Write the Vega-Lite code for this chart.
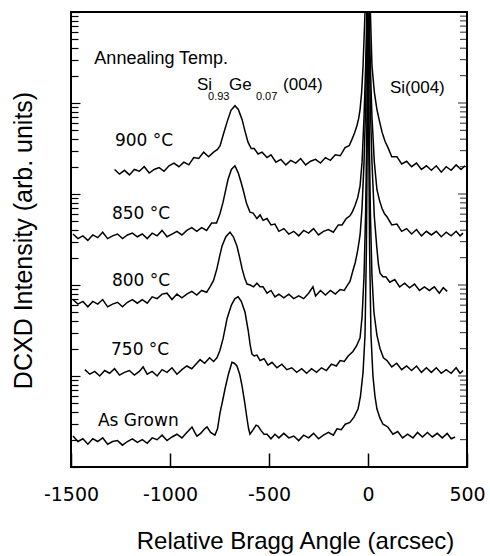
{
"$schema": "https://vega.github.io/schema/vega-lite/v6.json",
"width": 396, "height": 455,
"autosize": {"type": "none"},
"padding": {"left": 71, "top": 12, "right": 23, "bottom": 89},
"background": "white",
"config": {
  "view": {"stroke": "black", "strokeWidth": 2},
  "axis": {"domain": false, "grid": false, "tickColor": "black", "labelColor": "black", "titleColor": "black", "titleFontWeight": "normal"}
},
"datasets": {
"curves": [
{"s":"900","x":-1280,"y":3.27},{"s":"900","x":-1255,"y":3.22},{"s":"900","x":-1230,"y":3.26},{"s":"900","x":-1205,"y":3.21},{"s":"900","x":-1180,"y":3.27},{"s":"900","x":-1155,"y":3.25},{"s":"900","x":-1130,"y":3.30},{"s":"900","x":-1105,"y":3.23},{"s":"900","x":-1080,"y":3.27},{"s":"900","x":-1055,"y":3.29},{"s":"900","x":-1030,"y":3.25},{"s":"900","x":-1005,"y":3.31},{"s":"900","x":-980,"y":3.34},{"s":"900","x":-955,"y":3.30},{"s":"900","x":-930,"y":3.35},{"s":"900","x":-905,"y":3.32},{"s":"900","x":-880,"y":3.40},{"s":"900","x":-855,"y":3.39},{"s":"900","x":-830,"y":3.46},{"s":"900","x":-805,"y":3.41},{"s":"900","x":-780,"y":3.46},{"s":"900","x":-760,"y":3.49},{"s":"900","x":-747,"y":3.53},{"s":"900","x":-730,"y":3.66},{"s":"900","x":-712,"y":3.79},{"s":"900","x":-692,"y":3.92},{"s":"900","x":-672,"y":3.97},{"s":"900","x":-655,"y":3.93},{"s":"900","x":-636,"y":3.82},{"s":"900","x":-620,"y":3.68},{"s":"900","x":-606,"y":3.57},{"s":"900","x":-590,"y":3.50},{"s":"900","x":-575,"y":3.50},{"s":"900","x":-555,"y":3.44},{"s":"900","x":-535,"y":3.46},{"s":"900","x":-510,"y":3.40},{"s":"900","x":-490,"y":3.43},{"s":"900","x":-465,"y":3.35},{"s":"900","x":-440,"y":3.38},{"s":"900","x":-415,"y":3.32},{"s":"900","x":-390,"y":3.37},{"s":"900","x":-365,"y":3.34},{"s":"900","x":-340,"y":3.39},{"s":"900","x":-315,"y":3.32},{"s":"900","x":-290,"y":3.36},{"s":"900","x":-265,"y":3.38},{"s":"900","x":-240,"y":3.34},{"s":"900","x":-215,"y":3.40},{"s":"900","x":-190,"y":3.37},{"s":"900","x":-165,"y":3.43},{"s":"900","x":-140,"y":3.42},{"s":"900","x":-116,"y":3.51},{"s":"900","x":-95,"y":3.53},{"s":"900","x":-81,"y":3.60},{"s":"900","x":-68,"y":3.67},{"s":"900","x":-56,"y":3.75},{"s":"900","x":-47,"y":3.83},{"s":"900","x":-40,"y":3.93},{"s":"900","x":-32,"y":4.12},{"s":"900","x":-25,"y":4.41},{"s":"900","x":-15,"y":5.0},{"s":"900","x":-5,"y":5.6},{"s":"900","x":0,"y":5.7},{"s":"900","x":5,"y":5.6},{"s":"900","x":12,"y":5.0},{"s":"900","x":20,"y":4.41},{"s":"900","x":32,"y":4.12},{"s":"900","x":45,"y":3.93},{"s":"900","x":58,"y":3.80},{"s":"900","x":71,"y":3.68},{"s":"900","x":86,"y":3.58},{"s":"900","x":101,"y":3.51},{"s":"900","x":120,"y":3.41},{"s":"900","x":146,"y":3.41},{"s":"900","x":170,"y":3.33},{"s":"900","x":195,"y":3.36},{"s":"900","x":220,"y":3.30},{"s":"900","x":245,"y":3.34},{"s":"900","x":270,"y":3.27},{"s":"900","x":295,"y":3.31},{"s":"900","x":320,"y":3.26},{"s":"900","x":345,"y":3.31},{"s":"900","x":370,"y":3.24},{"s":"900","x":395,"y":3.30},{"s":"900","x":420,"y":3.26},{"s":"900","x":445,"y":3.32},{"s":"900","x":470,"y":3.27},{"s":"900","x":490,"y":3.31},
{"s":"850","x":-1490,"y":2.56},{"s":"850","x":-1465,"y":2.51},{"s":"850","x":-1440,"y":2.54},{"s":"850","x":-1415,"y":2.49},{"s":"850","x":-1390,"y":2.55},{"s":"850","x":-1365,"y":2.52},{"s":"850","x":-1340,"y":2.58},{"s":"850","x":-1315,"y":2.51},{"s":"850","x":-1290,"y":2.54},{"s":"850","x":-1265,"y":2.56},{"s":"850","x":-1240,"y":2.51},{"s":"850","x":-1215,"y":2.55},{"s":"850","x":-1190,"y":2.57},{"s":"850","x":-1165,"y":2.53},{"s":"850","x":-1140,"y":2.56},{"s":"850","x":-1115,"y":2.51},{"s":"850","x":-1090,"y":2.57},{"s":"850","x":-1065,"y":2.54},{"s":"850","x":-1040,"y":2.60},{"s":"850","x":-1015,"y":2.53},{"s":"850","x":-990,"y":2.56},{"s":"850","x":-965,"y":2.59},{"s":"850","x":-940,"y":2.55},{"s":"850","x":-915,"y":2.60},{"s":"850","x":-890,"y":2.63},{"s":"850","x":-865,"y":2.59},{"s":"850","x":-840,"y":2.63},{"s":"850","x":-815,"y":2.60},{"s":"850","x":-790,"y":2.68},{"s":"850","x":-765,"y":2.68},{"s":"850","x":-748,"y":2.78},{"s":"850","x":-732,"y":2.91},{"s":"850","x":-718,"y":3.05},{"s":"850","x":-707,"y":3.16},{"s":"850","x":-690,"y":3.27},{"s":"850","x":-672,"y":3.31},{"s":"850","x":-655,"y":3.23},{"s":"850","x":-640,"y":3.12},{"s":"850","x":-631,"y":3.05},{"s":"850","x":-614,"y":2.90},{"s":"850","x":-596,"y":2.80},{"s":"850","x":-580,"y":2.79},{"s":"850","x":-561,"y":2.73},{"s":"850","x":-545,"y":2.77},{"s":"850","x":-530,"y":2.71},{"s":"850","x":-510,"y":2.73},{"s":"850","x":-490,"y":2.66},{"s":"850","x":-470,"y":2.67},{"s":"850","x":-450,"y":2.59},{"s":"850","x":-425,"y":2.62},{"s":"850","x":-400,"y":2.56},{"s":"850","x":-375,"y":2.59},{"s":"850","x":-350,"y":2.54},{"s":"850","x":-325,"y":2.60},{"s":"850","x":-300,"y":2.57},{"s":"850","x":-275,"y":2.62},{"s":"850","x":-250,"y":2.55},{"s":"850","x":-225,"y":2.59},{"s":"850","x":-200,"y":2.61},{"s":"850","x":-175,"y":2.58},{"s":"850","x":-150,"y":2.66},{"s":"850","x":-131,"y":2.66},{"s":"850","x":-110,"y":2.73},{"s":"850","x":-91,"y":2.76},{"s":"850","x":-78,"y":2.81},{"s":"850","x":-66,"y":2.87},{"s":"850","x":-52,"y":2.96},{"s":"850","x":-40,"y":3.09},{"s":"850","x":-30,"y":3.35},{"s":"850","x":-20,"y":3.85},{"s":"850","x":-12,"y":4.40},{"s":"850","x":-5,"y":5.1},{"s":"850","x":0,"y":5.4},{"s":"850","x":5,"y":5.1},{"s":"850","x":12,"y":4.40},{"s":"850","x":20,"y":3.85},{"s":"850","x":32,"y":3.35},{"s":"850","x":45,"y":3.05},{"s":"850","x":58,"y":2.93},{"s":"850","x":71,"y":2.84},{"s":"850","x":84,"y":2.78},{"s":"850","x":96,"y":2.75},{"s":"850","x":120,"y":2.66},{"s":"850","x":146,"y":2.67},{"s":"850","x":170,"y":2.59},{"s":"850","x":195,"y":2.62},{"s":"850","x":220,"y":2.56},{"s":"850","x":245,"y":2.61},{"s":"850","x":270,"y":2.54},{"s":"850","x":295,"y":2.59},{"s":"850","x":320,"y":2.55},{"s":"850","x":345,"y":2.59},{"s":"850","x":370,"y":2.53},{"s":"850","x":395,"y":2.58},{"s":"850","x":420,"y":2.54},{"s":"850","x":445,"y":2.59},{"s":"850","x":465,"y":2.54},{"s":"850","x":480,"y":2.57},
{"s":"800","x":-1490,"y":1.84},{"s":"800","x":-1465,"y":1.79},{"s":"800","x":-1440,"y":1.82},{"s":"800","x":-1415,"y":1.76},{"s":"800","x":-1390,"y":1.82},{"s":"800","x":-1365,"y":1.79},{"s":"800","x":-1340,"y":1.84},{"s":"800","x":-1315,"y":1.76},{"s":"800","x":-1290,"y":1.79},{"s":"800","x":-1265,"y":1.81},{"s":"800","x":-1240,"y":1.76},{"s":"800","x":-1215,"y":1.81},{"s":"800","x":-1190,"y":1.84},{"s":"800","x":-1165,"y":1.80},{"s":"800","x":-1140,"y":1.84},{"s":"800","x":-1115,"y":1.80},{"s":"800","x":-1090,"y":1.87},{"s":"800","x":-1065,"y":1.85},{"s":"800","x":-1040,"y":1.90},{"s":"800","x":-1015,"y":1.91},{"s":"800","x":-990,"y":1.84},{"s":"800","x":-965,"y":1.90},{"s":"800","x":-940,"y":1.86},{"s":"800","x":-915,"y":1.90},{"s":"800","x":-890,"y":1.93},{"s":"800","x":-865,"y":1.89},{"s":"800","x":-840,"y":1.94},{"s":"800","x":-815,"y":1.92},{"s":"800","x":-798,"y":1.98},{"s":"800","x":-780,"y":2.05},{"s":"800","x":-763,"y":2.18},{"s":"800","x":-750,"y":2.31},{"s":"800","x":-737,"y":2.43},{"s":"800","x":-718,"y":2.53},{"s":"800","x":-697,"y":2.58},{"s":"800","x":-680,"y":2.53},{"s":"800","x":-662,"y":2.43},{"s":"800","x":-648,"y":2.30},{"s":"800","x":-636,"y":2.18},{"s":"800","x":-622,"y":2.07},{"s":"800","x":-611,"y":2.01},{"s":"800","x":-595,"y":2.00},{"s":"800","x":-578,"y":1.98},{"s":"800","x":-561,"y":2.02},{"s":"800","x":-545,"y":1.98},{"s":"800","x":-530,"y":1.98},{"s":"800","x":-510,"y":1.91},{"s":"800","x":-490,"y":1.94},{"s":"800","x":-470,"y":1.87},{"s":"800","x":-450,"y":1.90},{"s":"800","x":-425,"y":1.86},{"s":"800","x":-400,"y":1.90},{"s":"800","x":-375,"y":1.85},{"s":"800","x":-350,"y":1.88},{"s":"800","x":-325,"y":1.85},{"s":"800","x":-300,"y":1.91},{"s":"800","x":-278,"y":1.98},{"s":"800","x":-265,"y":1.88},{"s":"800","x":-240,"y":1.94},{"s":"800","x":-215,"y":1.89},{"s":"800","x":-190,"y":1.94},{"s":"800","x":-165,"y":1.90},{"s":"800","x":-141,"y":1.95},{"s":"800","x":-120,"y":1.94},{"s":"800","x":-106,"y":1.99},{"s":"800","x":-91,"y":2.04},{"s":"800","x":-76,"y":2.16},{"s":"800","x":-64,"y":2.25},{"s":"800","x":-52,"y":2.38},{"s":"800","x":-40,"y":2.55},{"s":"800","x":-30,"y":2.85},{"s":"800","x":-20,"y":3.35},{"s":"800","x":-12,"y":3.95},{"s":"800","x":-5,"y":4.8},{"s":"800","x":0,"y":5.3},{"s":"800","x":5,"y":4.8},{"s":"800","x":12,"y":3.95},{"s":"800","x":20,"y":3.35},{"s":"800","x":32,"y":2.75},{"s":"800","x":45,"y":2.40},{"s":"800","x":53,"y":2.22},{"s":"800","x":61,"y":2.13},{"s":"800","x":75,"y":2.09},{"s":"800","x":90,"y":2.09},{"s":"800","x":110,"y":2.03},{"s":"800","x":135,"y":2.06},{"s":"800","x":160,"y":1.98},{"s":"800","x":185,"y":2.02},{"s":"800","x":210,"y":1.97},{"s":"800","x":235,"y":2.01},{"s":"800","x":260,"y":1.94},{"s":"800","x":285,"y":1.98},{"s":"800","x":310,"y":1.94},{"s":"800","x":335,"y":1.98},{"s":"800","x":360,"y":1.91},{"s":"800","x":380,"y":1.97},{"s":"800","x":400,"y":1.93},
{"s":"750","x":-1430,"y":1.07},{"s":"750","x":-1405,"y":1.02},{"s":"750","x":-1380,"y":1.05},{"s":"750","x":-1355,"y":1.00},{"s":"750","x":-1330,"y":1.06},{"s":"750","x":-1305,"y":1.03},{"s":"750","x":-1280,"y":1.08},{"s":"750","x":-1255,"y":1.01},{"s":"750","x":-1230,"y":1.04},{"s":"750","x":-1205,"y":1.06},{"s":"750","x":-1180,"y":1.01},{"s":"750","x":-1155,"y":1.05},{"s":"750","x":-1136,"y":1.10},{"s":"750","x":-1115,"y":1.02},{"s":"750","x":-1090,"y":1.05},{"s":"750","x":-1065,"y":1.00},{"s":"750","x":-1040,"y":1.07},{"s":"750","x":-1015,"y":1.04},{"s":"750","x":-990,"y":1.09},{"s":"750","x":-965,"y":1.02},{"s":"750","x":-940,"y":1.07},{"s":"750","x":-915,"y":1.11},{"s":"750","x":-890,"y":1.08},{"s":"750","x":-865,"y":1.14},{"s":"750","x":-848,"y":1.18},{"s":"750","x":-825,"y":1.14},{"s":"750","x":-800,"y":1.20},{"s":"750","x":-780,"y":1.16},{"s":"750","x":-763,"y":1.20},{"s":"750","x":-748,"y":1.28},{"s":"750","x":-732,"y":1.41},{"s":"750","x":-720,"y":1.54},{"s":"750","x":-712,"y":1.63},{"s":"750","x":-690,"y":1.78},{"s":"750","x":-672,"y":1.85},{"s":"750","x":-656,"y":1.87},{"s":"750","x":-640,"y":1.82},{"s":"750","x":-621,"y":1.70},{"s":"750","x":-605,"y":1.50},{"s":"750","x":-595,"y":1.34},{"s":"750","x":-586,"y":1.24},{"s":"750","x":-575,"y":1.22},{"s":"750","x":-561,"y":1.23},{"s":"750","x":-545,"y":1.17},{"s":"750","x":-525,"y":1.19},{"s":"750","x":-505,"y":1.12},{"s":"750","x":-485,"y":1.15},{"s":"750","x":-460,"y":1.09},{"s":"750","x":-435,"y":1.13},{"s":"750","x":-410,"y":1.07},{"s":"750","x":-385,"y":1.09},{"s":"750","x":-360,"y":1.04},{"s":"750","x":-335,"y":1.08},{"s":"750","x":-310,"y":1.03},{"s":"750","x":-285,"y":1.08},{"s":"750","x":-260,"y":1.04},{"s":"750","x":-235,"y":1.09},{"s":"750","x":-210,"y":1.06},{"s":"750","x":-185,"y":1.13},{"s":"750","x":-160,"y":1.11},{"s":"750","x":-141,"y":1.17},{"s":"750","x":-120,"y":1.16},{"s":"750","x":-100,"y":1.22},{"s":"750","x":-76,"y":1.27},{"s":"750","x":-58,"y":1.33},{"s":"750","x":-40,"y":1.42},{"s":"750","x":-30,"y":1.65},{"s":"750","x":-20,"y":2.1},{"s":"750","x":-12,"y":2.8},{"s":"750","x":-6,"y":3.7},{"s":"750","x":-2,"y":4.6},{"s":"750","x":0,"y":5.2},{"s":"750","x":2,"y":4.6},{"s":"750","x":6,"y":3.7},{"s":"750","x":12,"y":2.8},{"s":"750","x":20,"y":2.1},{"s":"750","x":30,"y":1.70},{"s":"750","x":45,"y":1.45},{"s":"750","x":61,"y":1.30},{"s":"750","x":78,"y":1.20},{"s":"750","x":96,"y":1.17},{"s":"750","x":120,"y":1.10},{"s":"750","x":145,"y":1.14},{"s":"750","x":170,"y":1.07},{"s":"750","x":195,"y":1.11},{"s":"750","x":220,"y":1.06},{"s":"750","x":245,"y":1.11},{"s":"750","x":270,"y":1.04},{"s":"750","x":295,"y":1.09},{"s":"750","x":320,"y":1.04},{"s":"750","x":345,"y":1.09},{"s":"750","x":370,"y":1.03},{"s":"750","x":395,"y":1.07},{"s":"750","x":420,"y":1.03},{"s":"750","x":445,"y":1.09},{"s":"750","x":465,"y":1.03},{"s":"750","x":480,"y":1.06},
{"s":"AG","x":-1490,"y":0.34},{"s":"AG","x":-1465,"y":0.28},{"s":"AG","x":-1440,"y":0.31},{"s":"AG","x":-1415,"y":0.25},{"s":"AG","x":-1390,"y":0.31},{"s":"AG","x":-1365,"y":0.28},{"s":"AG","x":-1340,"y":0.32},{"s":"AG","x":-1315,"y":0.25},{"s":"AG","x":-1290,"y":0.28},{"s":"AG","x":-1265,"y":0.29},{"s":"AG","x":-1240,"y":0.24},{"s":"AG","x":-1215,"y":0.28},{"s":"AG","x":-1190,"y":0.31},{"s":"AG","x":-1165,"y":0.27},{"s":"AG","x":-1140,"y":0.30},{"s":"AG","x":-1115,"y":0.26},{"s":"AG","x":-1090,"y":0.32},{"s":"AG","x":-1065,"y":0.30},{"s":"AG","x":-1040,"y":0.35},{"s":"AG","x":-1015,"y":0.29},{"s":"AG","x":-990,"y":0.33},{"s":"AG","x":-965,"y":0.36},{"s":"AG","x":-940,"y":0.32},{"s":"AG","x":-915,"y":0.38},{"s":"AG","x":-889,"y":0.44},{"s":"AG","x":-875,"y":0.38},{"s":"AG","x":-864,"y":0.34},{"s":"AG","x":-845,"y":0.37},{"s":"AG","x":-825,"y":0.42},{"s":"AG","x":-813,"y":0.44},{"s":"AG","x":-795,"y":0.38},{"s":"AG","x":-773,"y":0.35},{"s":"AG","x":-760,"y":0.42},{"s":"AG","x":-747,"y":0.60},{"s":"AG","x":-735,"y":0.72},{"s":"AG","x":-722,"y":0.86},{"s":"AG","x":-705,"y":1.02},{"s":"AG","x":-687,"y":1.15},{"s":"AG","x":-675,"y":1.14},{"s":"AG","x":-662,"y":1.11},{"s":"AG","x":-648,"y":1.02},{"s":"AG","x":-636,"y":0.89},{"s":"AG","x":-622,"y":0.70},{"s":"AG","x":-611,"y":0.53},{"s":"AG","x":-603,"y":0.42},{"s":"AG","x":-596,"y":0.36},{"s":"AG","x":-580,"y":0.41},{"s":"AG","x":-565,"y":0.46},{"s":"AG","x":-555,"y":0.45},{"s":"AG","x":-540,"y":0.40},{"s":"AG","x":-525,"y":0.36},{"s":"AG","x":-510,"y":0.36},{"s":"AG","x":-490,"y":0.31},{"s":"AG","x":-470,"y":0.36},{"s":"AG","x":-450,"y":0.32},{"s":"AG","x":-425,"y":0.37},{"s":"AG","x":-400,"y":0.32},{"s":"AG","x":-375,"y":0.34},{"s":"AG","x":-350,"y":0.29},{"s":"AG","x":-325,"y":0.35},{"s":"AG","x":-300,"y":0.32},{"s":"AG","x":-275,"y":0.37},{"s":"AG","x":-250,"y":0.31},{"s":"AG","x":-225,"y":0.35},{"s":"AG","x":-200,"y":0.38},{"s":"AG","x":-175,"y":0.35},{"s":"AG","x":-157,"y":0.42},{"s":"AG","x":-135,"y":0.41},{"s":"AG","x":-115,"y":0.47},{"s":"AG","x":-91,"y":0.49},{"s":"AG","x":-70,"y":0.55},{"s":"AG","x":-50,"y":0.64},{"s":"AG","x":-38,"y":0.78},{"s":"AG","x":-25,"y":1.04},{"s":"AG","x":-15,"y":1.45},{"s":"AG","x":-8,"y":2.4},{"s":"AG","x":-3,"y":3.8},{"s":"AG","x":0,"y":5.2},{"s":"AG","x":3,"y":3.8},{"s":"AG","x":8,"y":2.4},{"s":"AG","x":15,"y":1.45},{"s":"AG","x":25,"y":1.0},{"s":"AG","x":35,"y":0.78},{"s":"AG","x":45,"y":0.64},{"s":"AG","x":60,"y":0.54},{"s":"AG","x":76,"y":0.47},{"s":"AG","x":100,"y":0.44},{"s":"AG","x":126,"y":0.36},{"s":"AG","x":150,"y":0.39},{"s":"AG","x":175,"y":0.32},{"s":"AG","x":200,"y":0.36},{"s":"AG","x":227,"y":0.32},{"s":"AG","x":250,"y":0.38},{"s":"AG","x":275,"y":0.33},{"s":"AG","x":300,"y":0.38},{"s":"AG","x":325,"y":0.33},{"s":"AG","x":350,"y":0.37},{"s":"AG","x":375,"y":0.32},{"s":"AG","x":400,"y":0.37},{"s":"AG","x":420,"y":0.31},{"s":"AG","x":440,"y":0.33}
],
"rticks": [{"x":500,"v":0.30103},{"x":500,"v":0.47712},{"x":500,"v":0.60206},{"x":500,"v":0.69897},{"x":500,"v":0.77815},{"x":500,"v":0.8451},{"x":500,"v":0.90309},{"x":500,"v":0.95424},{"x":500,"v":1},{"x":500,"v":1.30103},{"x":500,"v":1.47712},{"x":500,"v":1.60206},{"x":500,"v":1.69897},{"x":500,"v":1.77815},{"x":500,"v":1.8451},{"x":500,"v":1.90309},{"x":500,"v":1.95424},{"x":500,"v":2},{"x":500,"v":2.30103},{"x":500,"v":2.47712},{"x":500,"v":2.60206},{"x":500,"v":2.69897},{"x":500,"v":2.77815},{"x":500,"v":2.8451},{"x":500,"v":2.90309},{"x":500,"v":2.95424},{"x":500,"v":3},{"x":500,"v":3.30103},{"x":500,"v":3.47712},{"x":500,"v":3.60206},{"x":500,"v":3.69897},{"x":500,"v":3.77815},{"x":500,"v":3.8451},{"x":500,"v":3.90309},{"x":500,"v":3.95424},{"x":500,"v":4},{"x":500,"v":4.30103},{"x":500,"v":4.47712},{"x":500,"v":4.60206},{"x":500,"v":4.69897},{"x":500,"v":4.77815},{"x":500,"v":4.8451},{"x":500,"v":4.90309},{"x":500,"v":4.95424}],
"head": [{"t":"Annealing Temp.","x":-1382,"y":4.43}],
"main": [{"t":"Si","x":-864,"y":4.14},{"t":"Ge","x":-702,"y":4.14},{"t":"(004)","x":-429,"y":4.14},{"t":"Si(004)","x":111,"y":4.11}],
"subs": [{"t":"0.93","x":-808,"y":4.03},{"t":"0.07","x":-566,"y":4.03}],
"temps": [{"t":"900 °C","x":-1278,"y":3.53},{"t":"850 °C","x":-1293,"y":2.73},{"t":"800 °C","x":-1293,"y":1.99},{"t":"750 °C","x":-1298,"y":1.23},{"t":"As Grown","x":-1364,"y":0.45}]
},
"layer": [
{
  "data": {"name": "curves"},
  "mark": {"type": "line", "color": "black", "strokeWidth": 1.5, "clip": true},
  "encoding": {
    "x": {"field": "x", "type": "quantitative", "scale": {"domain": [-1500, 500], "nice": false},
      "axis": {"orient": "bottom", "title": "Relative Bragg Angle (arcsec)", "values": [-1500, -1000, -500, 0, 500],
        "labelExpr": "'' + datum.value", "labelOverlap": false, "labelFlush": false,
        "tickSize": -14, "tickWidth": 1.5, "labelPadding": 32, "labelFont": "DejaVu Sans", "labelFontSize": 19,
        "titleFont": "Liberation Sans", "titleFontSize": 24, "titleX": 224, "titleY": 81,
        "titleBaseline": "alphabetic", "titleAlign": "center"}},
    "y": {"field": "y", "type": "quantitative", "scale": {"domain": [0, 5], "nice": false, "zero": false},
      "axis": {"orient": "left", "title": "DCXD Intensity (arb. units)", "labels": false,
        "values": [0,0.30103,0.47712,0.60206,0.69897,0.77815,0.8451,0.90309,0.95424,1,1.30103,1.47712,1.60206,1.69897,1.77815,1.8451,1.90309,1.95424,2,2.30103,2.47712,2.60206,2.69897,2.77815,2.8451,2.90309,2.95424,3,3.30103,3.47712,3.60206,3.69897,3.77815,3.8451,3.90309,3.95424,4,4.30103,4.47712,4.60206,4.69897,4.77815,4.8451,4.90309,4.95424,5],
        "tickSize": {"condition": {"test": "datum.value % 1 === 0", "value": -9}, "value": -7}, "tickWidth": 1.2,
        "titleFont": "Liberation Sans", "titleFontSize": 25, "titleX": -40, "titleY": 228, "titleAngle": 270,
        "titleBaseline": "alphabetic", "titleAlign": "center"}},
    "detail": {"field": "s"}
  }
},
{
  "data": {"name": "rticks"},
  "mark": {"type": "tick", "orient": "horizontal", "color": "black", "thickness": 1.2, "clip": true},
  "encoding": {
    "x": {"field": "x", "type": "quantitative", "axis": null},
    "y": {"field": "v", "type": "quantitative", "axis": null},
    "size": {"condition": {"test": "datum.v % 1 === 0", "value": 18}, "value": 14}
  }
},
{
  "data": {"name": "head"},
  "mark": {"type": "text", "font": "Liberation Sans", "fontSize": 18, "align": "left", "baseline": "alphabetic", "color": "black"},
  "encoding": {
    "x": {"field": "x", "type": "quantitative", "axis": null},
    "y": {"field": "y", "type": "quantitative", "axis": null},
    "text": {"field": "t"}
  }
},
{
  "data": {"name": "main"},
  "mark": {"type": "text", "font": "Liberation Sans", "fontSize": 17, "align": "left", "baseline": "alphabetic", "color": "black"},
  "encoding": {
    "x": {"field": "x", "type": "quantitative", "axis": null},
    "y": {"field": "y", "type": "quantitative", "axis": null},
    "text": {"field": "t"}
  }
},
{
  "data": {"name": "subs"},
  "mark": {"type": "text", "font": "Liberation Sans", "fontSize": 11, "align": "left", "baseline": "alphabetic", "color": "black"},
  "encoding": {
    "x": {"field": "x", "type": "quantitative", "axis": null},
    "y": {"field": "y", "type": "quantitative", "axis": null},
    "text": {"field": "t"}
  }
},
{
  "data": {"name": "temps"},
  "mark": {"type": "text", "font": "DejaVu Sans", "fontSize": 17, "align": "left", "baseline": "alphabetic", "color": "black"},
  "encoding": {
    "x": {"field": "x", "type": "quantitative", "axis": null},
    "y": {"field": "y", "type": "quantitative", "axis": null},
    "text": {"field": "t"}
  }
}
],
"resolve": {"axis": {"x": "independent", "y": "independent"}}
}
